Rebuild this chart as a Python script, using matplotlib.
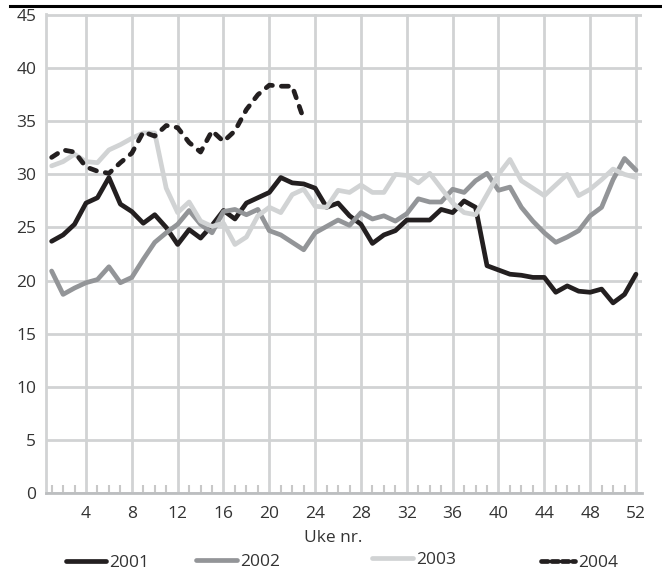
import matplotlib
matplotlib.use("Agg")
import matplotlib.pyplot as plt
from matplotlib.lines import Line2D

# weekly values
weeks = list(range(1, 53))

y2001 = [23.7, 24.3, 25.3, 27.3, 27.8, 29.7, 27.2, 26.5, 25.4, 26.2,
         25.0, 23.4, 24.8, 24.0, 25.2, 26.6, 25.8, 27.3, 27.8, 28.3,
         29.7, 29.2, 29.1, 28.7, 26.9, 27.3, 26.1, 25.3, 23.5, 24.3,
         24.7, 25.7, 25.7, 25.7, 26.7, 26.4, 27.5, 26.9, 21.4, 21.0,
         20.6, 20.5, 20.3, 20.3, 18.9, 19.5, 19.0, 18.9, 19.2, 17.9,
         18.7, 20.6]

y2002 = [20.9, 18.7, 19.3, 19.8, 20.1, 21.3, 19.8, 20.3, 22.0, 23.6,
         24.5, 25.3, 26.6, 25.3, 24.5, 26.5, 26.7, 26.2, 26.7, 24.7,
         24.3, 23.6, 22.9, 24.5, 25.1, 25.7, 25.2, 26.4, 25.8, 26.1,
         25.6, 26.3, 27.7, 27.4, 27.4, 28.6, 28.3, 29.4, 30.1, 28.5,
         28.8, 26.9, 25.6, 24.5, 23.6, 24.1, 24.7, 26.1, 26.9, 29.5,
         31.5, 30.4]

y2003 = [30.8, 31.2, 31.9, 31.2, 31.1, 32.3, 32.8, 33.4, 33.9, 33.9,
         28.7, 26.4, 27.4, 25.6, 25.1, 25.4, 23.4, 24.1, 26.1, 26.9,
         26.4, 28.1, 28.6, 27.0, 26.9, 28.5, 28.3, 29.0, 28.3, 28.3,
         30.0, 29.9, 29.2, 30.1, 28.7, 27.3, 26.4, 26.2, 28.1, 30.0,
         31.4, 29.4, 28.7, 28.0, 29.0, 30.0, 28.0, 28.6, 29.5, 30.5,
         30.0, 29.7]

y2004 = [31.6, 32.3, 32.1, 30.7, 30.3, 30.1, 31.1, 32.0, 34.0, 33.6,
         34.6, 34.4, 33.0, 32.1, 34.1, 33.1, 34.1, 36.1, 37.5, 38.4,
         38.3, 38.3, 35.2]

series_names = ["2001", "2002", "2003", "2004"]
x_ticks = list(range(4, 53, 4))
y_ticks = list(range(0, 46, 5))

black = "#231f20"
mid = "#939598"
light = "#d1d3d4"
grid_col = "#d1d3d4"
text_col = "#333333"

plt.rcParams["font.family"] = ["Open Sans", "DejaVu Sans"]

W, H = 662, 572
fig = plt.figure(figsize=(W / 100, H / 100), dpi=100)


def fx(px):
    return px / W


def fy(py):
    return 1 - py / H


ax = fig.add_axes([fx(45.9), fy(493), fx(641.7) - fx(45.9), fy(14) - fy(493)])

lw = 3.4
ax.plot(weeks, y2001, color=black, lw=lw, solid_joinstyle="round",
        solid_capstyle="round", zorder=3)
ax.plot(weeks, y2002, color=mid, lw=lw, solid_joinstyle="round",
        solid_capstyle="round", zorder=3)
ax.plot(weeks, y2003, color=light, lw=lw, solid_joinstyle="round",
        solid_capstyle="round", zorder=3)
ax.plot(weeks[:len(y2004)], y2004, color=black, lw=lw, dashes=(1.5, 1.9),
        dash_capstyle="round", dash_joinstyle="round", zorder=4)

ax.set_xlim(0.5, 52.5)
ax.set_ylim(0, 45.1)
ax.set_xticks(x_ticks)
ax.set_xticks([w for w in weeks if w % 4 != 0], minor=True)
ax.set_yticks(y_ticks)
ax.grid(True, which="major", color=grid_col, lw=2.0, zorder=0)
ax.set_axisbelow(True)

for s in ["top", "right"]:
    ax.spines[s].set_visible(False)
ax.spines["left"].set_color(grid_col)
ax.spines["left"].set_linewidth(2.0)
ax.spines["bottom"].set_color("#bcbec0")
ax.spines["bottom"].set_linewidth(2.0)

fs = 12.5
ax.tick_params(axis="both", which="major", length=0, labelsize=fs,
               labelcolor=text_col)
ax.tick_params(axis="x", which="major", pad=9)
ax.tick_params(axis="y", which="major", pad=7)
ax.tick_params(axis="x", which="minor", direction="in", length=6,
               width=1.5, color="#c8c8c8")
ax.tick_params(axis="y", which="minor", length=0)

fig.text(fx(333), fy(538), "Uke nr.", ha="center", va="center",
         fontsize=fs, color=text_col)

# top rule
fig.add_artist(Line2D([fx(10), 1.0], [fy(5.5), fy(5.5)], color="black",
                      lw=2.2, transform=fig.transFigure))

# legend
leg_items = [
    (series_names[0], black, None, 66, 106, 561),
    (series_names[1], mid, None, 196, 237, 560),
    (series_names[2], light, None, 372, 413, 558),
    (series_names[3], black, (1.4, 0.8), 541, 575, 561),
]
for name, col, dash, x0, x1, yy in leg_items:
    kw = dict(color=col, lw=lw, transform=fig.transFigure,
              solid_capstyle="round", dash_capstyle="round")
    if dash:
        kw["dashes"] = dash
    fig.add_artist(Line2D([fx(x0), fx(x1)], [fy(yy), fy(yy)], **kw))
    fig.text(fx(x1 + 3), fy(yy + 2), name, ha="left", va="center",
             fontsize=fs, color=text_col)

fig.savefig("out.png", dpi=100)
